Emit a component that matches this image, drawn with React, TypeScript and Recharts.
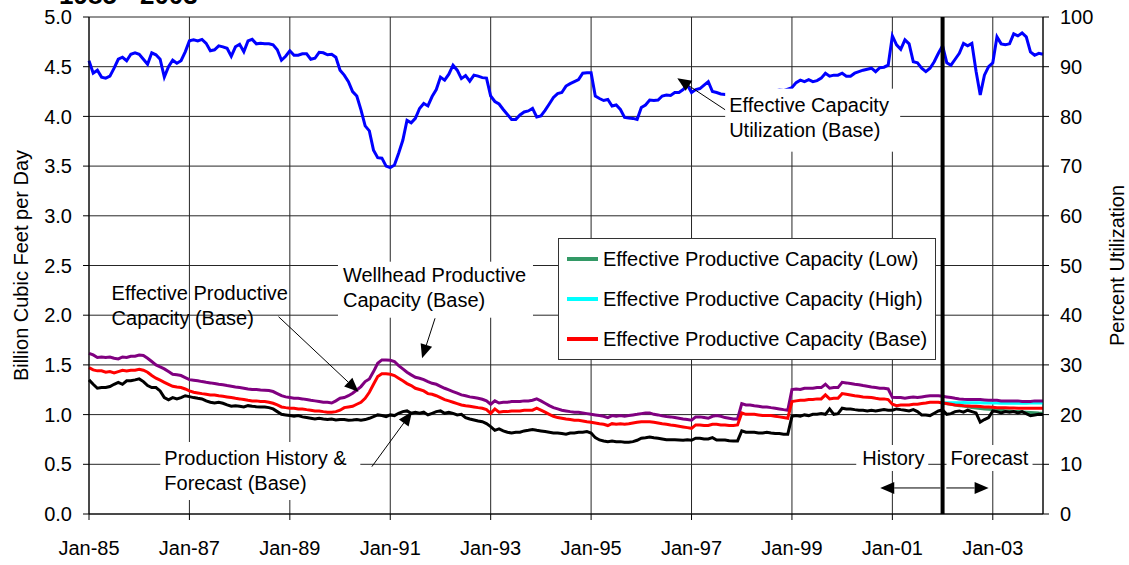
import { LineChart, Line, XAxis, YAxis, CartesianGrid, ReferenceLine, ReferenceDot, Legend } from 'recharts';

const FONT = '"Liberation Sans", Arial, Helvetica, sans-serif';

// month index 0 = Jan-85
const yearTicks = [0, 24, 48, 72, 96, 120, 144, 168, 192, 216];
const yearLabels = ['Jan-85', 'Jan-87', 'Jan-89', 'Jan-91', 'Jan-93', 'Jan-95', 'Jan-97', 'Jan-99', 'Jan-01', 'Jan-03'];
const bcfTicks = [0, 0.5, 1, 1.5, 2, 2.5, 3, 3.5, 4, 4.5, 5];
const pctTicks = [0, 10, 20, 30, 40, 50, 60, 70, 80, 90, 100];

// percent, monthly Jan-85 .. Jan-04
const utilization = [
  91.2, 88.7, 89.3, 87.9, 87.7, 88.1, 89.7, 91.5, 91.9, 91.2, 92.5, 92.8,
  92.5, 91.5, 90.5, 92.8, 92.4, 91.5, 87.9, 90.0, 91.3, 90.7, 91.2, 93.0,
  95.2, 95.4, 95.2, 95.5, 94.7, 93.2, 93.4, 94.2, 94.0, 93.7, 92.1, 94.0,
  94.5, 93.0, 95.2, 95.5, 94.6, 94.7, 94.6, 94.6, 94.4, 93.4, 91.3, 92.1,
  93.2, 92.3, 92.3, 92.6, 92.6, 91.5, 91.7, 92.9, 92.8, 92.4, 92.5, 91.9,
  89.3, 88.3, 87.0, 85.0, 84.1, 81.3, 78.1, 77.1, 73.2, 71.7, 71.6, 70.0,
  69.7, 70.2, 72.6, 75.2, 79.2, 78.7, 79.6, 81.6, 82.6, 82.1, 84.0, 85.4,
  87.9, 87.3, 88.5, 90.3, 89.3, 87.6, 88.2, 87.1, 88.3, 88.1, 87.8, 87.7,
  84.1, 83.0, 82.5, 81.4, 80.4, 79.4, 79.4, 80.3, 80.9, 81.1, 81.6, 79.9,
  80.1, 81.2, 82.5, 83.8, 84.6, 84.8, 86.1, 86.6, 87.0, 87.4, 88.7, 88.8,
  88.8, 84.1, 83.6, 83.2, 83.4, 82.1, 82.3, 81.4, 79.8, 79.7, 79.6, 79.4,
  81.8, 82.3, 83.3, 83.2, 83.3, 84.1, 84.3, 84.2, 84.8, 84.8, 85.4, 86.3,
  84.8, 85.4, 85.6, 86.3, 87.0, 85.0, 84.8, 84.5, 84.4, 84.6, 84.4, 84.3,
  84.6, 84.8, 84.5, 84.7, 84.6, 84.4, 84.7, 84.9, 85.1, 85.3, 85.2, 85.5,
  85.8, 86.8, 87.3, 87.0, 87.4, 87.0, 87.2, 87.7, 88.7, 88.1, 88.3, 88.3,
  88.7, 88.1, 88.1, 88.7, 89.0, 89.3, 89.5, 89.7, 89.0, 89.8, 89.9, 90.3,
  96.2, 94.4, 93.5, 95.4, 94.6, 91.0, 90.8, 89.7, 89.0, 89.7, 91.0, 92.7,
  94.2, 90.8, 90.3, 91.5, 92.7, 94.7, 94.2, 94.7, 89.1, 84.3, 88.3, 90.0,
  90.8, 96.0, 94.6, 94.4, 94.6, 96.6, 96.2, 96.8, 96.0, 93.0, 92.3, 92.7,
  92.5,
];

// Bcf/d
const wellhead = [
  1.617, 1.6, 1.574, 1.58, 1.574, 1.58, 1.567, 1.56, 1.58, 1.574, 1.587, 1.587,
  1.6, 1.594, 1.567, 1.534, 1.5, 1.48, 1.46, 1.433, 1.406, 1.4, 1.393, 1.373,
  1.352, 1.346, 1.34, 1.332, 1.325, 1.319, 1.312, 1.305, 1.3, 1.292, 1.285, 1.278,
  1.272, 1.265, 1.258, 1.252, 1.252, 1.248, 1.245, 1.242, 1.232, 1.211, 1.19, 1.178,
  1.171, 1.164, 1.164, 1.158, 1.151, 1.144, 1.138, 1.131, 1.124, 1.124, 1.117, 1.138,
  1.164, 1.171, 1.19, 1.215, 1.248, 1.282, 1.332, 1.359, 1.433, 1.517, 1.55, 1.55,
  1.547, 1.534, 1.493, 1.46, 1.426, 1.4, 1.376, 1.366, 1.352, 1.332, 1.315, 1.305,
  1.285, 1.265, 1.248, 1.232, 1.215, 1.198, 1.19, 1.178, 1.171, 1.164, 1.154, 1.138,
  1.104, 1.138, 1.117, 1.124, 1.124, 1.131, 1.131, 1.131, 1.138, 1.138, 1.144, 1.158,
  1.138, 1.114, 1.09, 1.07, 1.057, 1.044, 1.037, 1.03, 1.024, 1.024, 1.017, 1.01,
  1.003, 0.997, 0.99, 0.983, 0.97, 0.99, 0.983, 0.99, 0.983, 0.99, 0.997, 1.003,
  1.01, 1.017, 1.017, 1.003, 0.997, 0.987, 0.98, 0.977, 0.97, 0.963, 0.956, 0.95,
  0.943, 0.977, 0.977, 0.97, 0.963, 0.983, 0.99, 0.983, 0.97, 0.963, 0.956, 0.956,
  1.111, 1.097, 1.097, 1.09, 1.084, 1.077, 1.077, 1.07, 1.064, 1.057, 1.05, 1.044,
  1.252, 1.258, 1.252, 1.265, 1.265, 1.265, 1.272, 1.272, 1.305, 1.265, 1.272, 1.272,
  1.325, 1.319, 1.312, 1.305, 1.3, 1.292, 1.285, 1.278, 1.272, 1.265, 1.265, 1.258,
  1.174, 1.171, 1.171, 1.164, 1.171, 1.178, 1.171, 1.178, 1.184, 1.19, 1.19, 1.19,
  1.184, 1.178, 1.171, 1.164, 1.158, 1.154, 1.151, 1.151, 1.151, 1.151, 1.148, 1.144,
  1.144, 1.144, 1.138, 1.138, 1.138, 1.138, 1.138, 1.131, 1.131, 1.131, 1.138, 1.138,
  1.138,
];

const effectiveBase = [
  1.473, 1.45, 1.44, 1.44, 1.426, 1.433, 1.42, 1.433, 1.446, 1.44, 1.446, 1.446,
  1.456, 1.446, 1.426, 1.393, 1.366, 1.346, 1.325, 1.305, 1.285, 1.278, 1.272, 1.258,
  1.238, 1.225, 1.218, 1.211, 1.205, 1.198, 1.198, 1.19, 1.185, 1.178, 1.171, 1.164,
  1.158, 1.151, 1.144, 1.138, 1.138, 1.131, 1.131, 1.124, 1.114, 1.097, 1.077, 1.07,
  1.064, 1.064, 1.057, 1.057, 1.05, 1.044, 1.037, 1.037, 1.03, 1.024, 1.024, 1.03,
  1.044, 1.07, 1.077, 1.084, 1.104, 1.124, 1.164, 1.225, 1.305, 1.383, 1.41, 1.41,
  1.406, 1.393, 1.366, 1.34, 1.312, 1.292, 1.265, 1.252, 1.238, 1.211, 1.205, 1.19,
  1.171, 1.151, 1.138, 1.124, 1.111, 1.097, 1.09, 1.084, 1.077, 1.07, 1.064, 1.05,
  1.013, 1.057, 1.024, 1.03, 1.03, 1.037, 1.037, 1.037, 1.044, 1.044, 1.044, 1.064,
  1.044, 1.024, 1.003, 0.983, 0.97, 0.963, 0.956, 0.95, 0.943, 0.943, 0.936, 0.929,
  0.923, 0.916, 0.909, 0.903, 0.89, 0.909, 0.903, 0.909, 0.903, 0.909, 0.916, 0.923,
  0.929, 0.929, 0.929, 0.923, 0.916, 0.909, 0.903, 0.896, 0.89, 0.883, 0.876, 0.869,
  0.862, 0.896, 0.896, 0.89, 0.89, 0.903, 0.903, 0.896, 0.896, 0.89, 0.89, 0.896,
  1.017, 1.003, 1.003, 1.003, 0.997, 0.99, 0.99, 0.99, 0.983, 0.977, 0.97, 0.963,
  1.131, 1.138, 1.144, 1.144, 1.151, 1.151, 1.158, 1.158, 1.198, 1.158, 1.164, 1.164,
  1.211, 1.205, 1.198, 1.19, 1.184, 1.178, 1.175, 1.171, 1.164, 1.158, 1.158, 1.151,
  1.104, 1.09, 1.097, 1.097, 1.097, 1.104, 1.104, 1.111, 1.117, 1.124, 1.124, 1.124,
  1.117, 1.111, 1.104, 1.097, 1.094, 1.09, 1.087, 1.084, 1.084, 1.081, 1.077, 1.077,
  1.074, 1.07, 1.07, 1.07, 1.067, 1.067, 1.064, 1.064, 1.064, 1.064, 1.064, 1.064,
  1.064,
];

const production = [
  1.349, 1.305, 1.265, 1.272, 1.272, 1.282, 1.305, 1.325, 1.305, 1.34, 1.34, 1.349,
  1.359, 1.332, 1.292, 1.272, 1.272, 1.238, 1.171, 1.148, 1.171, 1.158, 1.171, 1.19,
  1.181, 1.171, 1.164, 1.158, 1.138, 1.124, 1.117, 1.124, 1.114, 1.097, 1.084, 1.09,
  1.084, 1.077, 1.09, 1.084, 1.08, 1.077, 1.077, 1.07, 1.057, 1.03, 1.003, 0.997,
  0.99, 0.983, 0.99, 0.977, 0.97, 0.963, 0.956, 0.963, 0.956, 0.95, 0.956, 0.946,
  0.95, 0.95, 0.943, 0.946, 0.95, 0.943, 0.95, 0.963, 0.98, 0.997, 0.99, 0.98,
  0.997, 0.99, 1.013, 1.03, 1.037, 1.013, 1.024, 1.013, 1.024, 0.997, 1.013, 1.03,
  1.037, 1.013, 1.024, 1.013, 0.997, 1.003, 0.97, 0.956, 0.946, 0.936, 0.929, 0.909,
  0.879, 0.842, 0.856, 0.836, 0.822, 0.815, 0.822, 0.822, 0.836, 0.842, 0.849, 0.842,
  0.836, 0.829, 0.822, 0.815, 0.815, 0.809, 0.802, 0.815, 0.815, 0.822, 0.822, 0.829,
  0.815, 0.768, 0.745, 0.735, 0.728, 0.735, 0.728, 0.728, 0.721, 0.721, 0.728, 0.742,
  0.762, 0.768, 0.775, 0.768, 0.762, 0.755, 0.748, 0.748, 0.748, 0.745, 0.742, 0.748,
  0.742, 0.762, 0.762, 0.755, 0.755, 0.768, 0.745, 0.745, 0.745, 0.738, 0.735, 0.735,
  0.836, 0.822, 0.822, 0.822, 0.815, 0.815, 0.822, 0.815, 0.809, 0.809, 0.802, 0.802,
  0.983, 0.99, 0.983, 0.997, 0.99, 1.003, 1.003, 1.01, 1.003, 1.057, 1.003, 1.01,
  1.064, 1.057, 1.057, 1.05, 1.044, 1.044, 1.037, 1.044, 1.037, 1.044, 1.05, 1.044,
  1.044, 1.057, 1.05, 1.044, 1.037, 1.05, 1.03, 0.997, 0.997, 0.99, 1.013, 1.037,
  1.047, 1.003, 1.01, 1.03, 1.037, 1.024, 1.044, 1.03, 1.017, 0.925, 0.95, 0.97,
  1.037, 1.03, 1.017, 1.03, 1.024, 1.03, 1.017, 1.03, 1.01, 0.99, 0.997, 1.003,
  1.0,
];

// forecast cases, Jan-02 .. Jan-04
const FORECAST_START = 204;
const effectiveLow = [
  1.117, 1.11, 1.104, 1.097, 1.09, 1.086, 1.079, 1.072, 1.066, 1.061, 1.057, 1.054,
  1.05, 1.046, 1.043, 1.04, 1.037, 1.033, 1.03, 1.027, 1.024, 1.021, 1.018, 1.015,
  1.013,
];
const effectiveHigh = [
  1.117, 1.118, 1.119, 1.12, 1.12, 1.121, 1.12, 1.12, 1.118, 1.118, 1.117, 1.117,
  1.117, 1.116, 1.115, 1.115, 1.114, 1.114, 1.114, 1.115, 1.115, 1.116, 1.117, 1.117,
  1.117,
];
const HISTORY_END = 204;

const legendItems = [
  { name: 'Effective Productive Capacity (Low)', color: '#339966' },
  { name: 'Effective Productive Capacity (High)', color: '#00FFFF' },
  { name: 'Effective Productive Capacity (Base)', color: '#FF0000' },
];

const rows = utilization.map((u, m) => ({
  m,
  util: u,
  wellhead: wellhead[m],
  base: effectiveBase[m],
  prod: production[m],
  low: m >= FORECAST_START ? effectiveLow[m - FORECAST_START] : null,
  high: m >= FORECAST_START ? effectiveHigh[m - FORECAST_START] : null,
}));

const TICK_STYLE = { fontSize: 20, fill: '#000', fontFamily: FONT };

function noteShape(lines: string[], box?: { x0: number; x1: number; y0: number; y1: number }) {
  return (props: any) => {
    const { cx, cy } = props;
    return (
      <g>
        {box && <rect x={cx + box.x0} y={cy + box.y0} width={box.x1 - box.x0} height={box.y1 - box.y0} fill="#fff" />}
        <text x={cx} y={cy} fontSize={20} fontFamily={FONT} fill="#000">
          {lines.map((t, i) => (
            <tspan key={t} x={cx} dy={i === 0 ? 0 : 25}>{t}</tspan>
          ))}
        </text>
      </g>
    );
  };
}

function arrowShape(props: any) {
  const { x1, y1, x2, y2 } = props;
  const a = Math.atan2(y2 - y1, x2 - x1);
  const len = 14;
  const half = 6;
  const bx = x2 - len * Math.cos(a);
  const by = y2 - len * Math.sin(a);
  const p1 = `${bx + half * Math.sin(a)},${by - half * Math.cos(a)}`;
  const p2 = `${bx - half * Math.sin(a)},${by + half * Math.cos(a)}`;
  return (
    <g>
      <line x1={x1} y1={y1} x2={bx} y2={by} stroke="#000" strokeWidth={1} />
      <polygon points={`${x2},${y2} ${p1} ${p2}`} fill="#000" />
    </g>
  );
}

const LegendBox = () => (
  <div style={{ width: 378, height: 122, boxSizing: 'border-box', border: '1px solid #333', background: '#fff', fontFamily: FONT, fontSize: 20, color: '#000' }}>
    {legendItems.map((it) => (
      <div key={it.name} style={{ display: 'flex', alignItems: 'center', height: 40 }}>
        <span style={{ display: 'inline-block', width: 31, height: 4, background: it.color, marginLeft: 8, marginRight: 5 }} />
        <span style={{ whiteSpace: 'nowrap' }}>{it.name}</span>
      </div>
    ))}
  </div>
);

const leftTitle = (props: any) => {
  const { viewBox } = props;
  const x = viewBox.x + 28;
  const y = viewBox.y + viewBox.height / 2;
  return (
    <text x={x} y={y} transform={`rotate(-90, ${x}, ${y})`} textAnchor="middle" fontSize={20} fontFamily={FONT} fill="#000">
      Billion Cubic Feet per Day
    </text>
  );
};

const rightTitle = (props: any) => {
  const { viewBox } = props;
  const x = viewBox.x + 81;
  const y = viewBox.y + viewBox.height / 2;
  return (
    <text x={x} y={y} transform={`rotate(-90, ${x}, ${y})`} textAnchor="middle" fontSize={20} fontFamily={FONT} fill="#000">
      Percent Utilization
    </text>
  );
};

export default function App() {
  return (
    <div style={{ position: 'absolute', left: 0, top: 0, width: 1129, height: 565, overflow: 'hidden', background: '#fff', fontFamily: FONT }}>
      <div style={{ position: 'absolute', left: 59, top: -18, fontSize: 26, lineHeight: '26px', fontWeight: 'bold', whiteSpace: 'nowrap' }}>
        1985 - 2003
      </div>
      <LineChart width={1129} height={565} data={rows} margin={{ top: 17, right: 0, bottom: 0, left: 0 }} style={{ fontFamily: FONT }}>
        <CartesianGrid yAxisId="left" stroke="#262626" strokeWidth={1} />
        <XAxis
          dataKey="m"
          type="number"
          domain={[0, 228]}
          ticks={yearTicks}
          interval={0}
          tickFormatter={(v: number) => yearLabels[yearTicks.indexOf(v)]}
          height={51}
          tick={TICK_STYLE}
          tickSize={6}
          tickMargin={21}
          stroke="#000"
        />
        <YAxis
          yAxisId="left"
          domain={[0, 5]}
          ticks={bcfTicks}
          interval={0}
          tickFormatter={(v: number) => v.toFixed(1)}
          width={89}
          tick={TICK_STYLE}
          tickSize={6}
          tickMargin={11}
          stroke="#000"
          label={leftTitle}
        />
        <YAxis
          yAxisId="right"
          orientation="right"
          domain={[0, 100]}
          ticks={pctTicks}
          interval={0}
          width={86}
          tick={TICK_STYLE}
          tickSize={6}
          tickMargin={11}
          stroke="#000"
          label={rightTitle}
        />
        <Legend
          layout="horizontal"
          verticalAlign="middle"
          align="center"
          content={() => <LegendBox />}
          wrapperStyle={{ left: 558, top: 238, width: 378, height: 122 }}
        />
        <Line yAxisId="left" dataKey="low" stroke="#339966" strokeWidth={3} dot={false} isAnimationActive={false} />
        <Line yAxisId="left" dataKey="high" stroke="#00FFFF" strokeWidth={3} dot={false} isAnimationActive={false} />
        <Line yAxisId="left" dataKey="wellhead" stroke="#800080" strokeWidth={3} dot={false} isAnimationActive={false} />
        <Line yAxisId="left" dataKey="base" stroke="#FF0000" strokeWidth={3} dot={false} isAnimationActive={false} />
        <Line yAxisId="left" dataKey="prod" stroke="#000" strokeWidth={3} dot={false} isAnimationActive={false} />
        <Line yAxisId="right" dataKey="util" stroke="#0000FF" strokeWidth={3} dot={false} isAnimationActive={false} />
        <ReferenceLine yAxisId="left" x={HISTORY_END} stroke="#000" strokeWidth={4} />

        <ReferenceDot yAxisId="left" x={5.4} y={2.153} shape={noteShape(['Effective Productive', 'Capacity (Base)'])} />
        <ReferenceLine yAxisId="left" segment={[{ x: 45.3, y: 1.985 }, { x: 64.4, y: 1.23 }]} shape={arrowShape} />

        <ReferenceDot yAxisId="left" x={60.7} y={2.337} shape={noteShape(['Wellhead Productive', 'Capacity (Base)'], { x0: -5, x1: 190, y0: -20, y1: 36 })} />
        <ReferenceLine yAxisId="left" segment={[{ x: 82.7, y: 1.969 }, { x: 79.6, y: 1.566 }]} shape={arrowShape} />

        <ReferenceDot yAxisId="left" x={18.0} y={0.493} shape={noteShape(['Production History &', 'Forecast (Base)'], { x0: -4, x1: 196, y0: -23, y1: 35 })} />
        <ReferenceLine yAxisId="left" segment={[{ x: 67.6, y: 0.476 }, { x: 77.2, y: 1.029 }]} shape={arrowShape} />

        <ReferenceDot yAxisId="right" x={153.0} y={80.95} shape={noteShape(['Effective Capacity', 'Utilization (Base)'], { x0: -4, x1: 171, y0: -23, y1: 40 })} />
        <ReferenceLine yAxisId="right" segment={[{ x: 152.1, y: 81.3 }, { x: 140.6, y: 87.7 }]} shape={arrowShape} />

        <ReferenceDot yAxisId="left" x={184.8} y={0.493} shape={noteShape(['History'], { x0: -6, x1: 66, y0: -20, y1: 6 })} />
        <ReferenceDot yAxisId="left" x={205.9} y={0.493} shape={noteShape(['Forecast'], { x0: -4, x1: 82, y0: -20, y1: 6 })} />
        <ReferenceLine yAxisId="left" segment={[{ x: 203.5, y: 0.262 }, { x: 189.1, y: 0.262 }]} shape={arrowShape} />
        <ReferenceLine yAxisId="left" segment={[{ x: 204.9, y: 0.262 }, { x: 215.0, y: 0.262 }]} shape={arrowShape} />
      </LineChart>
    </div>
  );
}
